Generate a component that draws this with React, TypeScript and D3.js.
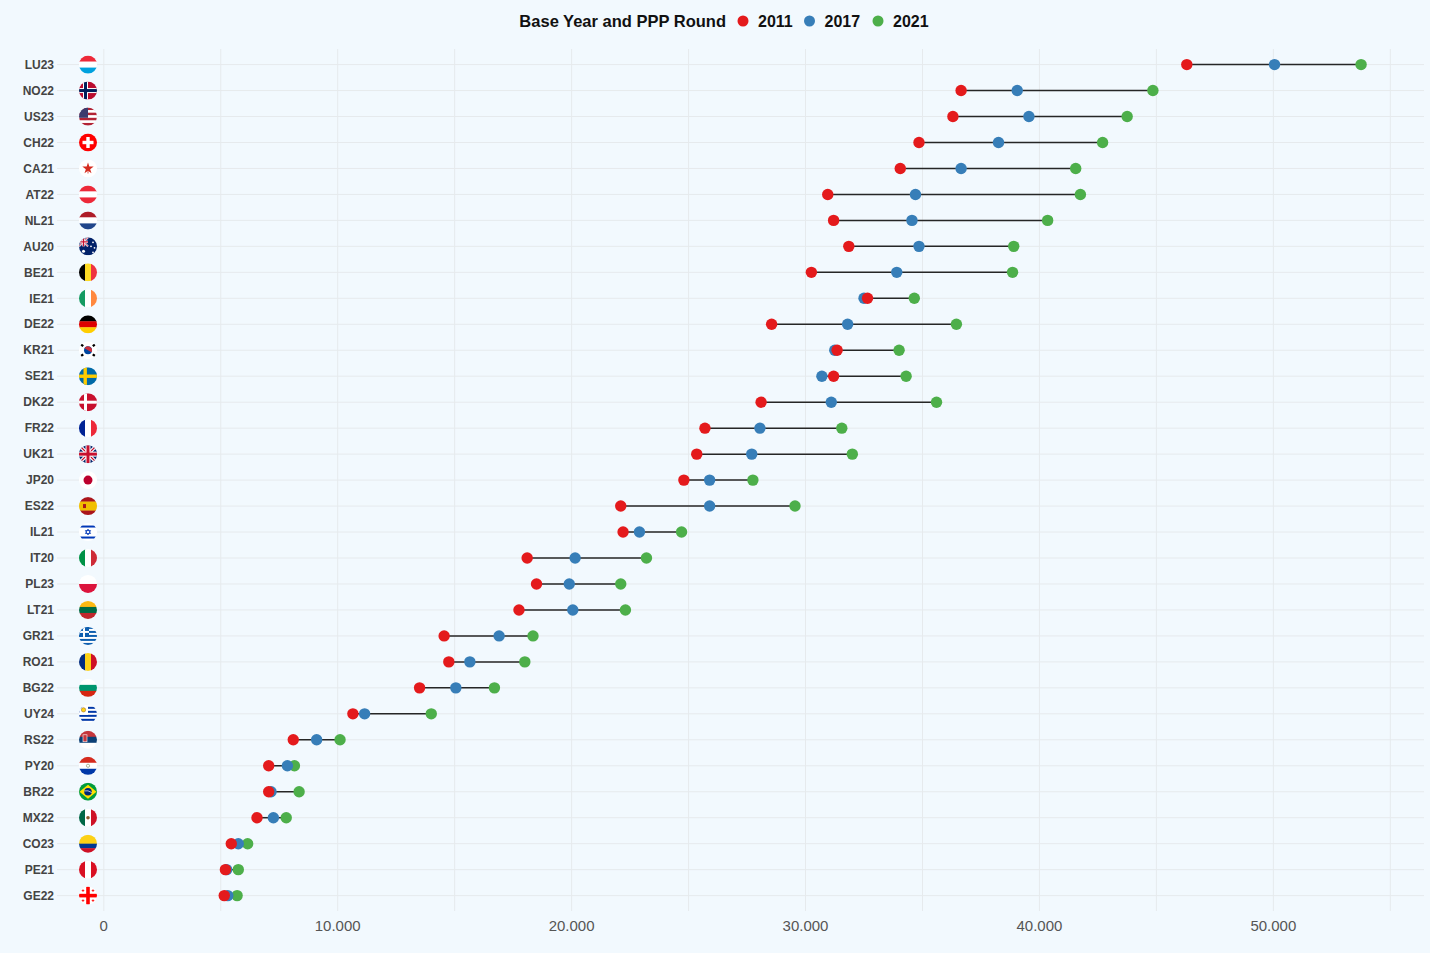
import React, { useRef, useEffect } from 'react';
import * as d3 from 'd3';

// country + base year, top to bottom
const codes = [
  'LU23', 'NO22', 'US23', 'CH22', 'CA21', 'AT22', 'NL21', 'AU20', 'BE21', 'IE21', 'DE22',
  'KR21', 'SE21', 'DK22', 'FR22', 'UK21', 'JP20', 'ES22', 'IL21', 'IT20', 'PL23', 'LT21',
  'GR21', 'RO21', 'BG22', 'UY24', 'RS22', 'PY20', 'BR22', 'MX22', 'CO23', 'PE21', 'GE22',
];

const ppp2011 = [
  46300, 36650, 36300, 34850, 34050, 30950, 31200, 31850, 30250, 32650, 28550,
  31350, 31200, 28100, 25700, 25350, 24800, 22100, 22200, 18100, 18500, 17750,
  14550, 14750, 13500, 10650, 8100, 7050, 7050, 6550, 5450, 5200, 5150,
];

const ppp2017 = [
  50050, 39050, 39550, 38250, 36650, 34700, 34550, 34850, 33900, 32500, 31800,
  31250, 30700, 31100, 28050, 27700, 25900, 25900, 22900, 20150, 19900, 20050,
  16900, 15650, 15050, 11150, 9100, 7850, 7150, 7250, 5750, 5250, 5300,
];

const ppp2021 = [
  53750, 44850, 43750, 42700, 41550, 41750, 40350, 38900, 38850, 34650, 36450,
  34000, 34300, 35600, 31550, 32000, 27750, 29550, 24700, 23200, 22100, 22300,
  18350, 18000, 16700, 14000, 10100, 8150, 8350, 7800, 6150, 5750, 5700,
];

const rounds = ['2011', '2017', '2021'];
const roundColors = ['#E41A1C', '#377EB8', '#4DAF4A'];

const BG = '#f2f9fe';
const GRID = '#e6eaed';
const FONT = '"Liberation Sans", Arial, sans-serif';

const fmt = d3.formatLocale({ decimal: ',', thousands: '.', grouping: [3], currency: ['', ''] }).format(',');

const R = 9;

function drawFlag(g: any, code: string) {
  const rect = (x: number, y: number, w: number, h: number, fill: string) =>
    g.append('rect').attr('x', x).attr('y', y).attr('width', w).attr('height', h).attr('fill', fill);
  const hs = (cols: string[], w: number[] = cols.map(() => 1)) => {
    const tot = d3.sum(w);
    let y0 = -R;
    cols.forEach((c, i) => {
      const h = (2 * R * w[i]) / tot;
      rect(-R, y0, 2 * R, h + 0.3, c);
      y0 += h;
    });
  };
  const vs = (cols: string[]) => {
    const w = (2 * R) / cols.length;
    cols.forEach((c, i) => rect(-R + i * w, -R, w + 0.3, 2 * R, c));
  };
  const circ = (cx: number, cy: number, r: number, fill: string) =>
    g.append('circle').attr('cx', cx).attr('cy', cy).attr('r', r).attr('fill', fill);
  const path = (d: string, stroke: string, sw: number, fill = 'none') =>
    g.append('path').attr('d', d).attr('stroke', stroke).attr('stroke-width', sw).attr('fill', fill);

  switch (code.slice(0, 2)) {
    case 'LU': hs(['#ED2939', '#fff', '#00A1DE']); break;
    case 'NO':
      rect(-R, -R, 2 * R, 2 * R, '#BA0C2F');
      rect(-5, -R, 5, 2 * R, '#fff'); rect(-R, -2.5, 2 * R, 5, '#fff');
      rect(-4, -R, 3, 2 * R, '#00205B'); rect(-R, -1.5, 2 * R, 3, '#00205B');
      break;
    case 'US':
      hs(['#B22234', '#fff', '#B22234', '#fff', '#B22234', '#fff', '#B22234']);
      rect(-R, -R, R, (2 * R * 4) / 7, '#3C3B6E');
      break;
    case 'CH':
      rect(-R, -R, 2 * R, 2 * R, '#FF0000');
      rect(-1.7, -5.5, 3.4, 11, '#fff'); rect(-5.5, -1.7, 11, 3.4, '#fff');
      break;
    case 'CA':
      rect(-R, -R, 2 * R, 2 * R, '#fff');
      g.append('path').attr('d', d3.symbol(d3.symbolStar, 40)()).attr('fill', '#D52B1E');
      rect(-0.4, 1, 0.8, 4, '#D52B1E');
      break;
    case 'AT': hs(['#ED2939', '#fff', '#ED2939']); break;
    case 'NL': hs(['#AE1C28', '#fff', '#21468B']); break;
    case 'AU':
      rect(-R, -R, 2 * R, 2 * R, '#012169');
      path('M-9,-9L0,0M0,-9L-9,0', '#fff', 2); path('M-9,-9L0,0M0,-9L-9,0', '#C8102E', 0.8);
      rect(-5.7, -9, 2.4, 9, '#fff'); rect(-9, -5.7, 9, 2.4, '#fff');
      rect(-5.1, -9, 1.2, 9, '#C8102E'); rect(-9, -5.1, 9, 1.2, '#C8102E');
      circ(-4.5, 5, 1.5, '#fff'); circ(5, -4, 0.9, '#fff'); circ(3, 0, 0.9, '#fff');
      circ(6.5, 1.5, 0.9, '#fff'); circ(5, 6, 0.9, '#fff');
      break;
    case 'BE': vs(['#000', '#FDDA24', '#EF3340']); break;
    case 'IE': vs(['#169B62', '#fff', '#FF883E']); break;
    case 'DE': hs(['#000', '#DD0000', '#FFCE00']); break;
    case 'KR':
      rect(-R, -R, 2 * R, 2 * R, '#fff');
      circ(0, 0, 4, '#0047A0');
      g.append('path').attr('d', 'M-3.4,-2.1A4,4 0 0,1 3.4,2.1Z').attr('fill', '#CD2E3A');
      [[-6, -5, 35], [6, -5, -35], [-6, 5, -35], [6, 5, 35]].forEach(([x, y, a]) =>
        rect(-1.5, -1.2, 3, 2.4, '#000').attr('transform', `translate(${x},${y}) rotate(${a})`));
      break;
    case 'SE':
      rect(-R, -R, 2 * R, 2 * R, '#006AA7');
      rect(-4.5, -R, 3.4, 2 * R, '#FECC00'); rect(-R, -1.7, 2 * R, 3.4, '#FECC00');
      break;
    case 'DK':
      rect(-R, -R, 2 * R, 2 * R, '#C8102E');
      rect(-4, -R, 3, 2 * R, '#fff'); rect(-R, -1.5, 2 * R, 3, '#fff');
      break;
    case 'FR': vs(['#002395', '#fff', '#ED2939']); break;
    case 'UK':
      rect(-R, -R, 2 * R, 2 * R, '#012169');
      path('M-9,-9L9,9M9,-9L-9,9', '#fff', 3.5); path('M-9,-9L9,9M9,-9L-9,9', '#C8102E', 1.2);
      rect(-2.5, -R, 5, 2 * R, '#fff'); rect(-R, -2.5, 2 * R, 5, '#fff');
      rect(-1.5, -R, 3, 2 * R, '#C8102E'); rect(-R, -1.5, 2 * R, 3, '#C8102E');
      break;
    case 'JP':
      rect(-R, -R, 2 * R, 2 * R, '#fff');
      circ(0, 0, 4.5, '#BC002D');
      break;
    case 'ES':
      hs(['#AA151B', '#F1BF00', '#AA151B'], [1, 2, 1]);
      rect(-5, -2, 3, 4, '#AA151B');
      break;
    case 'IL':
      rect(-R, -R, 2 * R, 2 * R, '#fff');
      rect(-R, -6.5, 2 * R, 2, '#0038B8'); rect(-R, 4.5, 2 * R, 2, '#0038B8');
      path('M0,-3L2.6,1.5L-2.6,1.5ZM0,3L2.6,-1.5L-2.6,-1.5Z', '#0038B8', 0.8);
      break;
    case 'IT': vs(['#009246', '#fff', '#CE2B37']); break;
    case 'PL': hs(['#fff', '#DC143C']); break;
    case 'LT': hs(['#FDB913', '#006A44', '#C1272D']); break;
    case 'GR':
      hs(['#0D5EAF', '#fff', '#0D5EAF', '#fff', '#0D5EAF', '#fff', '#0D5EAF', '#fff', '#0D5EAF']);
      rect(-R, -R, 10, 10, '#0D5EAF');
      rect(-5, -R, 2, 10, '#fff'); rect(-R, -5, 10, 2, '#fff');
      break;
    case 'RO': vs(['#002B7F', '#FCD116', '#CE1126']); break;
    case 'BG': hs(['#fff', '#00966E', '#D62612']); break;
    case 'UY':
      hs(['#fff', '#0038A8', '#fff', '#0038A8', '#fff', '#0038A8', '#fff', '#0038A8', '#fff']);
      rect(-R, -R, 9, 10, '#fff');
      circ(-4.5, -4, 2.2, '#FCD116').attr('stroke', '#7B3F00').attr('stroke-width', 0.4);
      break;
    case 'RS':
      hs(['#C6363C', '#0C4076', '#fff']);
      rect(-5, -5, 4, 7, '#C6363C').attr('stroke', '#fff').attr('stroke-width', 0.6);
      break;
    case 'PY':
      hs(['#D52B1E', '#fff', '#0038A8']);
      circ(0, 0, 1.6, 'none').attr('stroke', '#7a8a5a').attr('stroke-width', 0.6);
      break;
    case 'BR':
      rect(-R, -R, 2 * R, 2 * R, '#009C3B');
      g.append('path').attr('d', 'M0,-7L8.5,0L0,7L-8.5,0Z').attr('fill', '#FFDF00');
      circ(0, 0, 3.8, '#002776');
      path('M-3.7,-0.8Q0,-1.8 3.7,0.8', '#fff', 0.7);
      break;
    case 'MX':
      vs(['#006847', '#fff', '#CE1126']);
      circ(0, 0, 1.8, '#8B5A2B');
      break;
    case 'CO': hs(['#FCD116', '#003893', '#CE1126'], [2, 1, 1]); break;
    case 'PE': vs(['#D91023', '#fff', '#D91023']); break;
    case 'GE':
      rect(-R, -R, 2 * R, 2 * R, '#fff');
      rect(-1.8, -R, 3.6, 2 * R, '#FF0000'); rect(-R, -1.8, 2 * R, 3.6, '#FF0000');
      [[-5, -5], [5, -5], [-5, 5], [5, 5]].forEach(([x, y]) => {
        rect(x - 1.3, y - 0.4, 2.6, 0.8, '#FF0000');
        rect(x - 0.4, y - 1.3, 0.8, 2.6, '#FF0000');
      });
      break;
  }
}

const PPPDumbbellChart: React.FC = () => {
  const svgRef = useRef<SVGSVGElement | null>(null);

  useEffect(() => {
    if (!svgRef.current) return;
    document.body.style.margin = '0';
    document.body.style.background = BG;

    const svg = d3.select(svgRef.current);
    svg.selectAll('*').remove();

    const width = 1430;
    const height = 953;
    const plot = { left: 57, right: 1424, top: 49, bottom: 911 };

    const x = d3.scaleLinear().domain([-2000, 56440]).range([plot.left, plot.right]);
    const y = d3.scalePoint<string>().domain(codes).range([51.6, 908.6]).padding(0.5);

    svg.append('rect').attr('width', width).attr('height', height).attr('fill', BG);

    svg.append('defs').append('clipPath').attr('id', 'flagClip')
      .append('circle').attr('r', R);

    // grid
    const grid = svg.append('g');
    grid.selectAll('line.h')
      .data(codes)
      .join('line')
      .attr('x1', plot.left).attr('x2', plot.right)
      .attr('y1', d => y(d)!).attr('y2', d => y(d)!)
      .attr('stroke', GRID).attr('stroke-width', 1);
    const ticks = x.ticks(12).filter(t => t >= 0);
    grid.selectAll('line.v')
      .data(ticks)
      .join('line')
      .attr('x1', d => x(d)).attr('x2', d => x(d))
      .attr('y1', plot.top).attr('y2', plot.bottom)
      .attr('stroke', GRID).attr('stroke-width', 1);

    // x tick labels
    svg.append('g')
      .selectAll('text')
      .data(ticks.filter(t => t % 10000 === 0))
      .join('text')
      .attr('x', d => x(d))
      .attr('y', 931)
      .attr('text-anchor', 'middle')
      .attr('font-family', FONT)
      .attr('font-size', 15)
      .attr('fill', '#555')
      .text(d => fmt(d));

    // row labels
    svg.append('g')
      .selectAll('text')
      .data(codes)
      .join('text')
      .attr('x', 54)
      .attr('y', d => y(d)!)
      .attr('dy', '0.35em')
      .attr('text-anchor', 'end')
      .attr('font-family', FONT)
      .attr('font-size', 12)
      .attr('font-weight', 'bold')
      .attr('fill', '#444')
      .text(d => d);

    // flags
    codes.forEach(c => {
      const fg = svg.append('g')
        .attr('transform', `translate(88,${y(c)})`)
        .attr('clip-path', 'url(#flagClip)');
      drawFlag(fg, c);
    });

    // dumbbell lines
    const series = [ppp2011, ppp2017, ppp2021];
    svg.append('g')
      .selectAll('line')
      .data(codes)
      .join('line')
      .attr('x1', (_, i) => x(d3.min(series, s => s[i])!))
      .attr('x2', (_, i) => x(d3.max(series, s => s[i])!))
      .attr('y1', d => y(d)!)
      .attr('y2', d => y(d)!)
      .attr('stroke', '#262626')
      .attr('stroke-width', 1.5);

    // dots: 2021 first, 2011 on top
    [2, 1, 0].forEach(k => {
      svg.append('g')
        .selectAll('circle')
        .data(codes)
        .join('circle')
        .attr('cx', (_, i) => x(series[k][i]))
        .attr('cy', d => y(d)!)
        .attr('r', 5.7)
        .attr('fill', roundColors[k]);
    });

    // legend
    const leg = svg.append('g').attr('font-family', FONT).attr('font-weight', 'bold').attr('fill', '#111');
    leg.append('text').attr('x', 726).attr('y', 21).attr('dy', '0.35em').attr('text-anchor', 'end')
      .attr('font-size', 16.5).text('Base Year and PPP Round');
    const legX = [743, 809.5, 878];
    rounds.forEach((r, i) => {
      leg.append('circle').attr('cx', legX[i]).attr('cy', 21).attr('r', 5.5).attr('fill', roundColors[i]);
      leg.append('text').attr('x', legX[i] + 15).attr('y', 21).attr('dy', '0.35em').attr('font-size', 16).text(r);
    });
  }, []);

  return (
    <svg
      ref={svgRef}
      width={1430}
      height={953}
      style={{ position: 'absolute', left: 0, top: 0, display: 'block' }}
    />
  );
};

export default function App() {
  return <PPPDumbbellChart />;
}
